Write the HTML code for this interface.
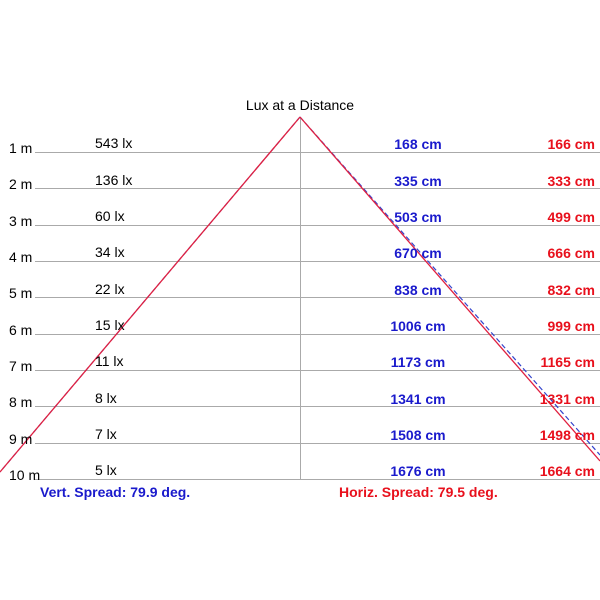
<!DOCTYPE html>
<html><head><meta charset="utf-8"><style>
html,body{margin:0;padding:0;background:#fff;width:600px;height:600px;overflow:hidden}
svg text{font-family:"Liberation Sans",Arial,sans-serif;font-size:14px}
</style></head><body>
<svg width="600" height="600" viewBox="0 0 600 600">
<text x="300" y="110" text-anchor="middle" fill="#000">Lux at a Distance</text>
<g stroke="#aaa" stroke-width="1">
<line x1="35" y1="152.5" x2="600" y2="152.5"/>
<line x1="35" y1="188.5" x2="600" y2="188.5"/>
<line x1="35" y1="225.5" x2="600" y2="225.5"/>
<line x1="35" y1="261.5" x2="600" y2="261.5"/>
<line x1="35" y1="297.5" x2="600" y2="297.5"/>
<line x1="35" y1="334.5" x2="600" y2="334.5"/>
<line x1="35" y1="370.5" x2="600" y2="370.5"/>
<line x1="35" y1="406.5" x2="600" y2="406.5"/>
<line x1="35" y1="443.5" x2="600" y2="443.5"/>
<line x1="35" y1="479.5" x2="600" y2="479.5"/>
<line x1="300.5" y1="117" x2="300.5" y2="479"/>
</g>
<line x1="300" y1="117" x2="600" y2="455" stroke="#3344cc" stroke-width="1.2" stroke-dasharray="5,3"/>
<line x1="300" y1="117" x2="0" y2="472" stroke="#3344cc" stroke-width="1.2" stroke-dasharray="5,3"/>
<line x1="300" y1="117" x2="600" y2="461" stroke="#e02040" stroke-width="1.3"/>
<line x1="300" y1="117" x2="0" y2="472" stroke="#e02040" stroke-width="1.3"/>
<g fill="#000">
<text x="9" y="153">1 m</text><text x="9" y="189">2 m</text><text x="9" y="226">3 m</text><text x="9" y="262">4 m</text><text x="9" y="298">5 m</text><text x="9" y="335">6 m</text><text x="9" y="371">7 m</text><text x="9" y="407">8 m</text><text x="9" y="444">9 m</text><text x="9" y="480">10 m</text>
<text x="95" y="148">543 lx</text><text x="95" y="185">136 lx</text><text x="95" y="221">60 lx</text><text x="95" y="257">34 lx</text><text x="95" y="294">22 lx</text><text x="95" y="330">15 lx</text><text x="95" y="366">11 lx</text><text x="95" y="403">8 lx</text><text x="95" y="439">7 lx</text><text x="95" y="475">5 lx</text>
</g>
<g fill="#1a1acc" font-weight="bold" text-anchor="middle">
<text x="418" y="149">168 cm</text><text x="418" y="186">335 cm</text><text x="418" y="222">503 cm</text><text x="418" y="258">670 cm</text><text x="418" y="295">838 cm</text><text x="418" y="331">1006 cm</text><text x="418" y="367">1173 cm</text><text x="418" y="404">1341 cm</text><text x="418" y="440">1508 cm</text><text x="418" y="476">1676 cm</text>
</g>
<g fill="#e8101c" font-weight="bold" text-anchor="end">
<text x="595" y="149">166 cm</text><text x="595" y="186">333 cm</text><text x="595" y="222">499 cm</text><text x="595" y="258">666 cm</text><text x="595" y="295">832 cm</text><text x="595" y="331">999 cm</text><text x="595" y="367">1165 cm</text><text x="595" y="404">1331 cm</text><text x="595" y="440">1498 cm</text><text x="595" y="476">1664 cm</text>
</g>
<text x="40" y="497" fill="#1a1acc" font-weight="bold">Vert. Spread: 79.9 deg.</text>
<text x="339" y="497" fill="#e8101c" font-weight="bold">Horiz. Spread: 79.5 deg.</text>
</svg>
</body></html>
